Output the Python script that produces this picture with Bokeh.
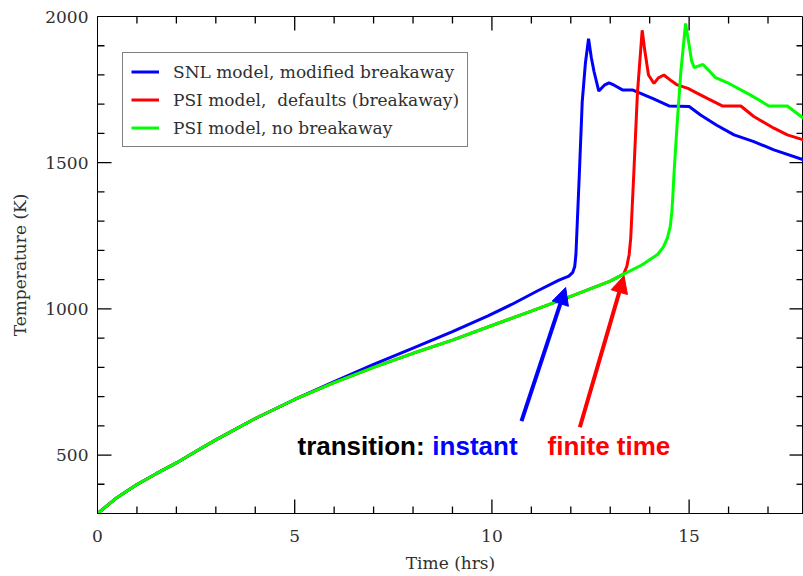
from bokeh.plotting import figure
from bokeh.models import (Range1d, SingleIntervalTicker, Legend, LegendItem,
                          Arrow, NormalHead, Label, ColumnDataSource)
from bokeh.embed import file_html
from bokeh.resources import INLINE

# ---------------- data ----------------
snl_time = [0, 0.5, 1, 1.5, 2, 2.5, 3, 4, 5, 6, 7, 8, 9, 9.9, 10.5, 11.15, 11.7, 11.95, 12.05,
            12.1, 12.13, 12.21, 12.29, 12.37, 12.45, 12.52, 12.59, 12.71, 12.85, 12.97, 13.1,
            13.31, 13.56, 13.77, 14.1, 14.49, 15.0, 15.29, 15.7, 16.14, 16.64, 17.15, 17.9]
snl_temp = [300, 355, 399, 437, 473, 513, 552, 625, 690, 751, 810, 866, 922, 976, 1015, 1061,
            1098, 1112, 1125, 1145, 1186, 1440, 1709, 1840, 1924, 1860, 1811, 1745, 1765, 1773,
            1765, 1749, 1749, 1737, 1718, 1694, 1692, 1663, 1628, 1595, 1572, 1544, 1510]

psi_def_time = [0, 0.5, 1, 1.5, 2, 2.5, 3, 4, 5, 6, 7, 8, 9, 10, 11, 12, 13, 13.34, 13.42, 13.48,
                13.52, 13.56, 13.6, 13.69, 13.81, 13.88, 13.97, 14.11, 14.22, 14.36, 14.55, 14.7,
                14.97, 15.2, 15.46, 15.84, 16.31, 16.64, 17.15, 17.49, 17.9]
psi_def_temp = [300, 355, 399, 437, 473, 513, 552, 625, 690, 748, 800, 848, 893, 943, 992, 1043,
                1095, 1119, 1145, 1186, 1243, 1357, 1470, 1740, 1953, 1880, 1800, 1771, 1790,
                1800, 1780, 1766, 1754, 1738, 1720, 1694, 1694, 1658, 1618, 1595, 1578]

psi_nb_time = [0, 0.5, 1, 1.5, 2, 2.5, 3, 4, 5, 6, 7, 8, 9, 10, 11, 12, 13, 13.34, 13.8, 14.2,
               14.35, 14.45, 14.52, 14.56, 14.58, 14.62, 14.7, 14.79, 14.91, 14.98, 15.06, 15.13,
               15.23, 15.35, 15.5, 15.67, 16.01, 16.56, 17.02, 17.49, 17.9]
psi_nb_temp = [300, 355, 399, 437, 473, 513, 552, 625, 690, 748, 800, 848, 893, 943, 992, 1043,
               1095, 1119, 1150, 1186, 1212, 1243, 1280, 1330, 1368, 1470, 1640, 1811, 1976,
               1920, 1850, 1825, 1830, 1836, 1815, 1791, 1771, 1731, 1694, 1694, 1652]

series_labels = ["SNL model, modified breakaway",
                 "PSI model,  defaults (breakaway)",
                 "PSI model, no breakaway"]
series_colors = ["#0000ff", "#ff0000", "#00ff00"]

x_major_ticks = [0, 5, 10, 15]
x_minor_ticks = list(range(1, 18))
y_major_ticks = [500, 1000, 1500, 2000]
y_minor_ticks = list(range(400, 2000, 100))

# annotation anchors (data units)
arrow_instant = (10.75, 616, 11.87, 1073)
arrow_finite = (12.23, 595, 13.35, 1113)
text_y = 532
text_transition_x = 5.07
text_instant_x = 8.49
text_finite_x = 11.41

# ---------------- figure ----------------
X0, X1, Y0, Y1 = 0, 17.9, 300, 2000
FONT = "DejaVu Serif"
p = figure(width=803, height=576, output_backend="svg", toolbar_location=None,
           x_range=Range1d(X0, X1), y_range=Range1d(Y0, Y1),
           min_border_left=97, min_border_right=0, min_border_top=16, min_border_bottom=63,
           x_axis_label="Time (hrs)", y_axis_label="Temperature (K)")
p.background_fill_color = "white"
p.border_fill_color = "white"
p.outline_line_color = "black"
p.outline_line_width = 1
p.xgrid.visible = False
p.ygrid.visible = False

def style_axis(ax, interval):
    ax.ticker = SingleIntervalTicker(interval=interval, num_minor_ticks=5)
    ax.major_tick_in = 0
    ax.major_tick_out = 0
    ax.minor_tick_in = 0
    ax.minor_tick_out = 0
    ax.axis_line_color = "black"
    ax.major_label_text_font = FONT
    ax.major_label_text_font_size = "17px"
    ax.major_label_text_color = "#303030"
    ax.axis_label_text_font = FONT
    ax.axis_label_text_font_size = "17px"
    ax.axis_label_text_font_style = "normal"
    ax.axis_label_text_color = "#303030"

style_axis(p.xaxis[0], 5)
style_axis(p.yaxis[0], 500)
p.xaxis[0].major_label_standoff = 16
p.xaxis[0].axis_label_standoff = 8
p.yaxis[0].major_label_standoff = 9
p.yaxis[0].axis_label_standoff = 12

# inward tick marks on all four sides, drawn slightly inset from the frame edge
px_per_x = 706.0 / (X1 - X0)
px_per_y = 497.0 / (Y1 - Y0)
eps_y = 0.5 / px_per_y
eps_x = 0.5 / px_per_x
sx0, sy0, sx1, sy1 = [], [], [], []
for xt in x_minor_ticks:
    L = (14 if xt in x_major_ticks else 7) / px_per_y
    sx0 += [xt, xt]; sy0 += [Y0 + eps_y, Y1 - eps_y]
    sx1 += [xt, xt]; sy1 += [Y0 + L, Y1 - L]
for yt in y_minor_ticks:
    L = (14 if yt in y_major_ticks else 7) / px_per_x
    sx0 += [X0 + eps_x, X1 - eps_x]; sy0 += [yt, yt]
    sx1 += [X0 + L, X1 - L]; sy1 += [yt, yt]
for i in range(len(sx0)):
    p.line([sx0[i], sx1[i]], [sy0[i], sy1[i]], line_color="black", line_width=1.3)

r1 = p.line(snl_time, snl_temp, line_color=series_colors[0], line_width=3)
r2 = p.line(psi_def_time, psi_def_temp, line_color=series_colors[1], line_width=3)
r3 = p.line(psi_nb_time, psi_nb_temp, line_color=series_colors[2], line_width=3)

legend = Legend(items=[LegendItem(label=series_labels[0], renderers=[r1]),
                       LegendItem(label=series_labels[1], renderers=[r2]),
                       LegendItem(label=series_labels[2], renderers=[r3])],
                location=(25, 366), orientation="vertical")
legend.label_text_font = FONT
legend.label_text_font_size = "17px"
legend.label_text_color = "#303030"
legend.glyph_width = 28
legend.glyph_height = 21
legend.label_height = 21
legend.label_width = 284
legend.label_standoff = 14
legend.padding = 8
legend.spacing = 7
legend.margin = 0
legend.border_line_color = "black"
legend.border_line_width = 1
legend.background_fill_color = "white"
legend.background_fill_alpha = 1
p.add_layout(legend, "center")

for (xs, ys, xe, ye), col in [(arrow_instant, "#0000ff"), (arrow_finite, "#ff0000")]:
    p.add_layout(Arrow(end=NormalHead(size=17, fill_color=col, line_color=col),
                       x_start=xs, y_start=ys, x_end=xe, y_end=ye,
                       line_color=col, line_width=4))

for txt, x, col in [("transition:", text_transition_x, "black"),
                    ("instant", text_instant_x, "#0000ff"),
                    ("finite time", text_finite_x, "#ff0000")]:
    p.add_layout(Label(x=x, y=text_y, text=txt, text_color=col,
                       text_font="Liberation Sans", text_font_style="bold",
                       text_font_size="26px", text_baseline="alphabetic", text_align="left"))

open("out.html", "w").write(file_html(p, INLINE))
